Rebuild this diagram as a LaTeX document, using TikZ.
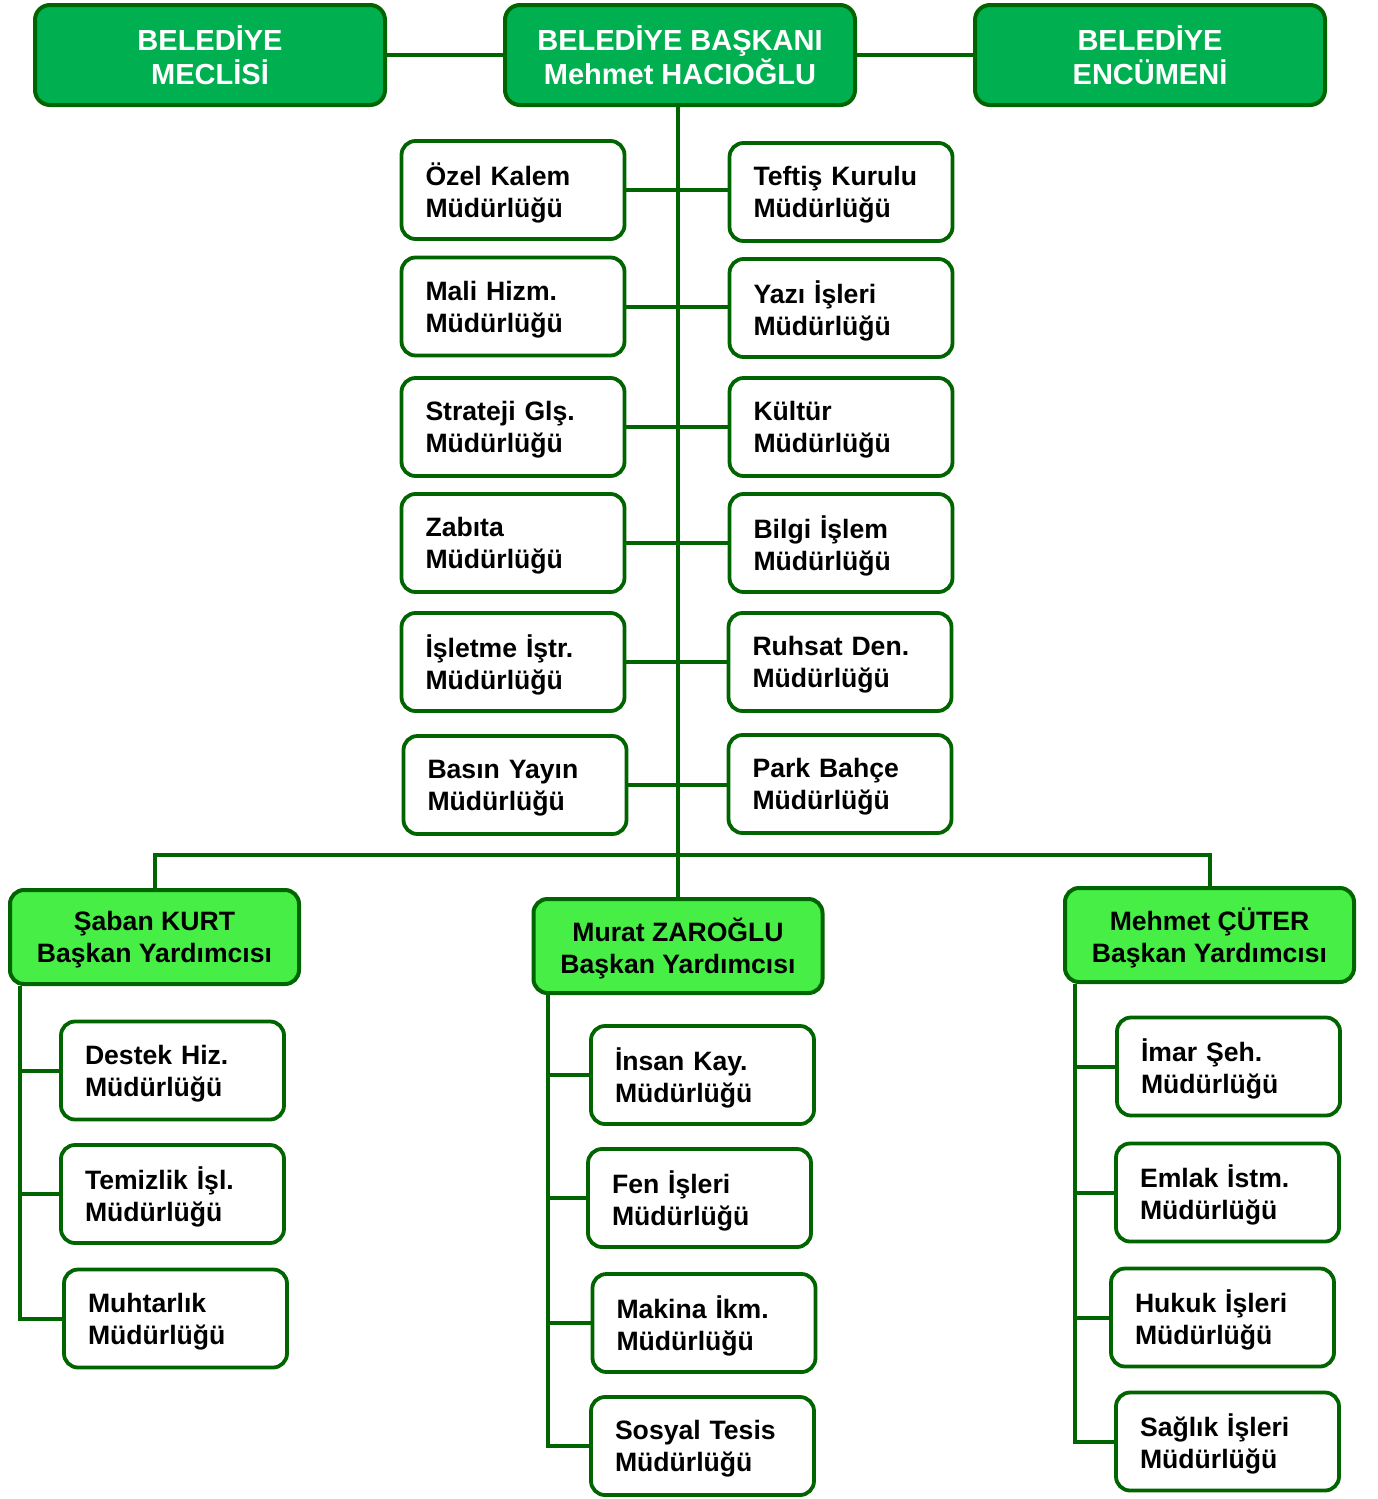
\documentclass[tikz,border=0pt]{standalone}
\usepackage{fontspec}
\setmainfont{Liberation Sans}
\definecolor{topfill}{RGB}{0,176,80}
\definecolor{dgreen}{RGB}{0,100,0}
\definecolor{asfill}{RGB}{70,238,70}
\begin{document}
\begin{tikzpicture}[x=1pt,y=-1pt,
  topbox/.style={draw=dgreen,line width=4pt,fill=topfill,rounded corners=15pt,
    minimum width=350pt,minimum height=100pt,align=center,text=white,
    font=\fontsize{29}{34}\selectfont\bfseries,inner sep=0pt,text depth=0pt},
  asbox/.style={draw=dgreen,line width=4pt,fill=asfill,rounded corners=14pt,
    minimum width=289pt,minimum height=94pt,align=center,text=black,
    font=\fontsize{26.6}{32}\selectfont\bfseries,inner sep=0pt,text depth=0pt},
  ubox/.style={draw=dgreen,line width=3.8pt,fill=white,rounded corners=14pt,
    text width=175pt,inner xsep=24pt,inner ysep=0pt,minimum height=98pt,align=left,
    font=\fontsize{26.6}{32}\selectfont\bfseries,text depth=32pt},
  conn/.style={draw=dgreen,line width=4pt}]
\useasboundingbox (0,0) rectangle (1377,1499);

% top row
\node[topbox] (mec) at (210,55) {BELEDİYE\\MECLİSİ};
\node[topbox] (bb) at (680,55) {BELEDİYE BAŞKANI\\Mehmet HACIOĞLU};
\node[topbox] (enc) at (1150,55) {BELEDİYE\\ENCÜMENİ};

% central column
\node[ubox] (l1) at (513,190) {Özel Kalem\\Müdürlüğü};
\node[ubox] (l2) at (513,306.5) {Mali Hizm.\\Müdürlüğü};
\node[ubox] (l3) at (513,427) {Strateji Glş.\\Müdürlüğü};
\node[ubox] (l4) at (513,543) {Zabıta\\Müdürlüğü};
\node[ubox] (l5) at (513,662) {İşletme İştr.\\Müdürlüğü};
\node[ubox] (l6) at (515,785) {Basın Yayın\\Müdürlüğü};
\node[ubox] (r1) at (841,192) {Teftiş Kurulu\\Müdürlüğü};
\node[ubox] (r2) at (841,308) {Yazı İşleri\\Müdürlüğü};
\node[ubox] (r3) at (841,427) {Kültür\\Müdürlüğü};
\node[ubox] (r4) at (841,543) {Bilgi İşlem\\Müdürlüğü};
\node[ubox] (r5) at (840,662) {Ruhsat Den.\\Müdürlüğü};
\node[ubox] (r6) at (840,784) {Park Bahçe\\Müdürlüğü};

% assistants
\node[asbox] (sk) at (154.5,937) {Şaban KURT\\Başkan Yardımcısı};
\node[asbox] (mz) at (678,946) {Murat ZAROĞLU\\Başkan Yardımcısı};
\node[asbox] (mc) at (1209.5,935) {Mehmet ÇÜTER\\Başkan Yardımcısı};

% left branch
\node[ubox] (a1) at (172.5,1070.5) {Destek Hiz.\\Müdürlüğü};
\node[ubox] (a2) at (172.5,1194) {Temizlik İşl.\\Müdürlüğü};
\node[ubox] (a3) at (175.5,1318.5) {Muhtarlık\\Müdürlüğü};
% middle branch
\node[ubox] (b1) at (702.5,1075) {İnsan Kay.\\Müdürlüğü};
\node[ubox] (b2) at (699.5,1198) {Fen İşleri\\Müdürlüğü};
\node[ubox] (b3) at (704,1323) {Makina İkm.\\Müdürlüğü};
\node[ubox] (b4) at (702.5,1446) {Sosyal Tesis\\Müdürlüğü};
% right branch
\node[ubox] (c1) at (1228.5,1066.5) {İmar Şeh.\\Müdürlüğü};
\node[ubox] (c2) at (1227.5,1192.5) {Emlak İstm.\\Müdürlüğü};
\node[ubox] (c3) at (1222.5,1317.5) {Hukuk İşleri\\Müdürlüğü};
\node[ubox] (c4) at (1227.5,1441.5) {Sağlık İşleri\\Müdürlüğü};

% connectors
\draw[conn] (mec.east) -- (bb.west);
\draw[conn] (bb.east) -- (enc.west);
\draw[conn] (bb.south -| mz.north) -- (mz.north);
\foreach \a/\b in {l1/r1,l2/r2,l3/r3,l4/r4,l5/r5,l6/r6}
  \draw[conn] (\a.east) -- (\a.east -| \b.west);
\coordinate (bus) at (678,855);
\draw[conn] (sk.north) -- (sk.north |- bus) -- (mc.north |- bus) -- (mc.north);
\coordinate (lv) at (20,986);
\draw[conn] (lv) -- (lv |- a3.west) -- (a3.west);
\foreach \n in {a1,a2} \draw[conn] (lv |- \n.west) -- (\n.west);
\coordinate (mv) at (548,995);
\draw[conn] (mv) -- (mv |- b4.west) -- (b4.west);
\foreach \n in {b1,b2,b3} \draw[conn] (mv |- \n.west) -- (\n.west);
\coordinate (rv) at (1075,984);
\draw[conn] (rv) -- (rv |- c4.west) -- (c4.west);
\foreach \n in {c1,c2,c3} \draw[conn] (rv |- \n.west) -- (\n.west);
\end{tikzpicture}
\end{document}
